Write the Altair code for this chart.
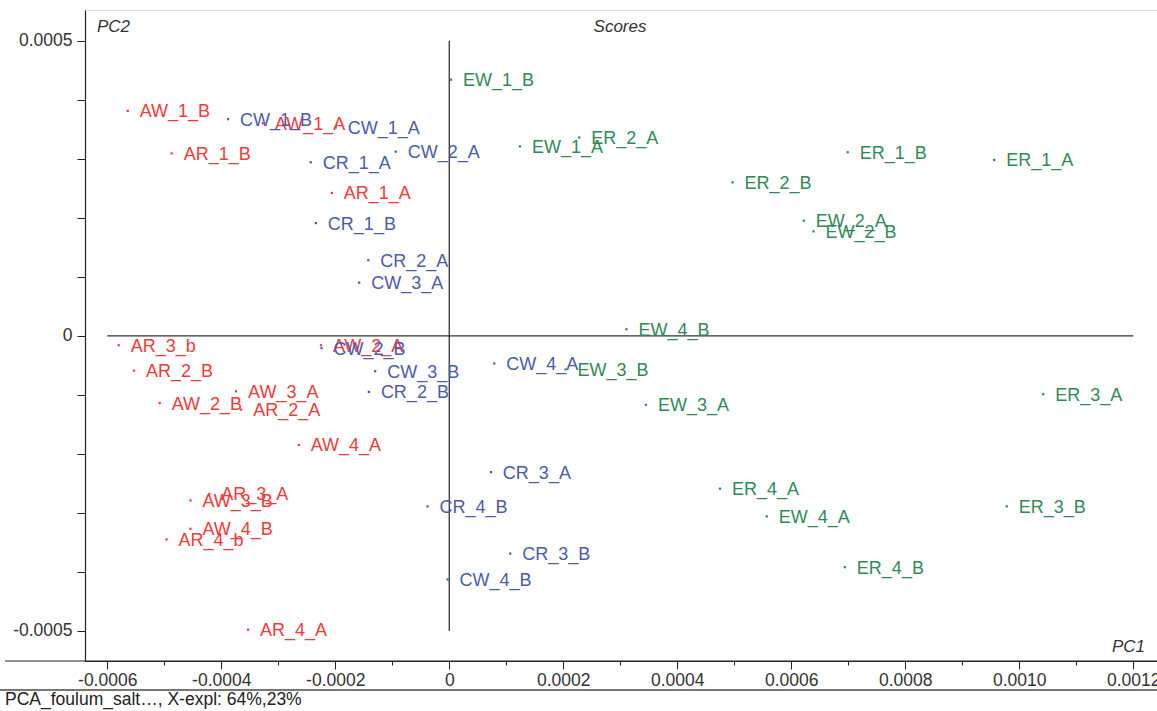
import altair as alt
import pandas as pd

# ---- data ----
names = [
    "AW_1_B", "AR_1_B", "AW_1_A", "AR_1_A", "AR_3_b", "AR_2_B", "AW_2_B", "AW_3_A",
    "AR_2_A", "AW_4_A", "AW_2_A", "AW_3_B", "AR_3_A", "AW_4_B", "AR_4_b", "AR_4_A",
    "CW_1_B", "CW_1_A", "CW_2_A", "CR_1_A", "CR_1_B", "CR_2_A", "CW_3_A", "CW_2_B",
    "CW_3_B", "CR_2_B", "CW_4_A", "CR_3_A", "CR_4_B", "CR_3_B", "CW_4_B",
    "EW_1_B", "EW_1_A", "ER_2_A", "ER_2_B", "EW_2_A", "EW_2_B", "ER_1_B", "ER_1_A",
    "EW_4_B", "EW_3_B", "EW_3_A", "ER_3_A", "ER_4_A", "EW_4_A", "ER_3_B", "ER_4_B",
]
pc1 = [
    -0.000564, -0.000487, -0.000327, -0.000206, -0.000580, -0.000553, -0.000508, -0.000374,
    -0.000365, -0.000264, -0.000225, -0.000454, -0.000421, -0.000454, -0.000496, -0.000353,
    -0.000388, -0.000199, -0.000094, -0.000243, -0.000234, -0.000142, -0.000158, -0.000224,
    -0.000130, -0.000141, 0.000079, 0.000073, -0.000038, 0.000107, -0.000003,
    0.000003, 0.000124, 0.000228, 0.000497, 0.000622, 0.000639, 0.000699, 0.000956,
    0.000311, 0.000204, 0.000345, 0.001042, 0.000475, 0.000557, 0.000978, 0.000694,
]
pc2 = [
    0.000381, 0.000309, 0.000360, 0.000242, -0.000016, -0.000059, -0.000114, -0.000094,
    -0.000125, -0.000185, -0.000016, -0.000279, -0.000268, -0.000327, -0.000345, -0.000498,
    0.000367, 0.000353, 0.000312, 0.000294, 0.000191, 0.000128, 0.000090, -0.000021,
    -0.000060, -0.000095, -0.000047, -0.000231, -0.000289, -0.000369, -0.000413,
    0.000434, 0.000321, 0.000336, 0.000260, 0.000195, 0.000177, 0.000311, 0.000298,
    0.000011, -0.000057, -0.000117, -0.000099, -0.000259, -0.000306, -0.000289, -0.000392,
]
group_keys = ["A", "C", "E"]
group_colors = ["#F23A3A", "#4A5BB0", "#2E8B57"]

# reference (zero) lines extents
hline_x = [-0.0006, 0.0012]
vline_y = [-0.0005, 0.0005]

x_domain = [-0.000639, 0.0012416]
y_domain = [-0.000551, 0.000552]
x_ticks = [round(-0.0006 + 0.00005 * i, 6) for i in range(37)]
y_ticks = [round(-0.0005 + 0.0001 * i, 6) for i in range(11)]

df = pd.DataFrame({"name": names, "pc1": pc1, "pc2": pc2})
df["group"] = df["name"].str[0]

W, H = 1072, 651
FONT = "Liberation Sans"

xs = alt.Scale(domain=x_domain, nice=False, zero=False)
ys = alt.Scale(domain=y_domain, nice=False, zero=False)
color = alt.Color("group:N", scale=alt.Scale(domain=group_keys, range=group_colors), legend=None)

is_major_x = "abs(round(datum.value / 0.0002) * 0.0002 - datum.value) < 1e-9"
x_axis = alt.Axis(
    values=x_ticks, title=None, grid=False,
    domainColor="#222", domainWidth=1.2, tickColor="#222",
    tickSize={"condition": {"test": is_major_x, "value": 8}, "value": 4},
    labelExpr="(" + is_major_x + ") ? (datum.value == 0 ? '0' : ((datum.value < 0 ? '-' : '') + format(abs(datum.value), '.4f'))) : ''",
    labelFont=FONT, labelFontSize=17.5, labelColor="#333", labelPadding=2,
    labelAngle=0, labelFlush=False, labelOverlap=False, labelBound=False,
)
is_label_y = "abs(datum.value) < 1e-9 || abs(abs(datum.value) - 0.0005) < 1e-9"
y_axis = alt.Axis(
    values=y_ticks, title=None, grid=False,
    domainColor="#222", domainWidth=1.2, tickColor="#222", tickSize=8,
    labelExpr="(" + is_label_y + ") ? (datum.value == 0 ? '0' : ((datum.value < 0 ? '-' : '') + format(abs(datum.value), '.4f'))) : ''",
    labelFont=FONT, labelFontSize=17.5, labelColor="#333", labelPadding=5,
    labelFlush=False, labelOverlap=False, labelBound=False,
)

base = alt.Chart(df)

points = base.mark_square(size=5, filled=True, opacity=1).encode(
    x=alt.X("pc1:Q", scale=xs, axis=x_axis),
    y=alt.Y("pc2:Q", scale=ys, axis=y_axis),
    color=color,
)
labels = base.mark_text(align="left", baseline="alphabetic", dx=12, dy=6.5,
                        font=FONT, fontSize=18).encode(
    x=alt.X("pc1:Q", scale=xs),
    y=alt.Y("pc2:Q", scale=ys),
    text="name:N",
    color=color,
)

hline = alt.Chart(pd.DataFrame({"x": [hline_x[0]], "x2": [hline_x[1]], "y": [0.0]})).mark_rule(
    color="#333", strokeWidth=1.2).encode(
    x=alt.X("x:Q", scale=xs), x2="x2:Q", y=alt.Y("y:Q", scale=ys))
vline = alt.Chart(pd.DataFrame({"y": [vline_y[0]], "y2": [vline_y[1]], "x": [0.0]})).mark_rule(
    color="#222", strokeWidth=1.2).encode(
    y=alt.Y("y:Q", scale=ys), y2="y2:Q", x=alt.X("x:Q", scale=xs))

# frame lines (axis extension and bottom separator)
axis_ext = alt.Chart(pd.DataFrame({"a": [0]})).mark_rule(color="#222", strokeWidth=1.2).encode(
    x=alt.value(-80), x2=alt.value(W), y=alt.value(H))
bottom_sep = alt.Chart(pd.DataFrame({"a": [0]})).mark_rule(color="#777", strokeWidth=2).encode(
    x=alt.value(-85), x2=alt.value(W), y=alt.value(680))

def note(txt, x, y, align="left", italic=True, size=17, color="#333"):
    return alt.Chart(pd.DataFrame({"t": [txt]})).mark_text(
        align=align, baseline="middle", font=FONT, fontSize=size,
        fontStyle="italic" if italic else "normal", color=color).encode(
        x=alt.value(x), y=alt.value(y), text="t:N")

title_t = note("Scores", 535, 17, align="center")
pc2_t = note("PC2", 12, 17)
pc1_t = note("PC1", 1060, 637, align="right")
foot_t = note("PCA_foulum_salt…, X-expl: 64%,23%", -80, 690, italic=False, size=17.5, color="#222")

chart = alt.layer(
    hline, vline, axis_ext, bottom_sep, points, labels, title_t, pc2_t, pc1_t, foot_t
).properties(
    width=W, height=H,
    autosize=alt.AutoSizeParams(type="none"),
    padding={"left": 85, "top": 10, "right": 0, "bottom": 50},
).configure_view(stroke=None).configure(background="white")

chart.save("out.html", embed_options={"renderer": "svg", "actions": False})
